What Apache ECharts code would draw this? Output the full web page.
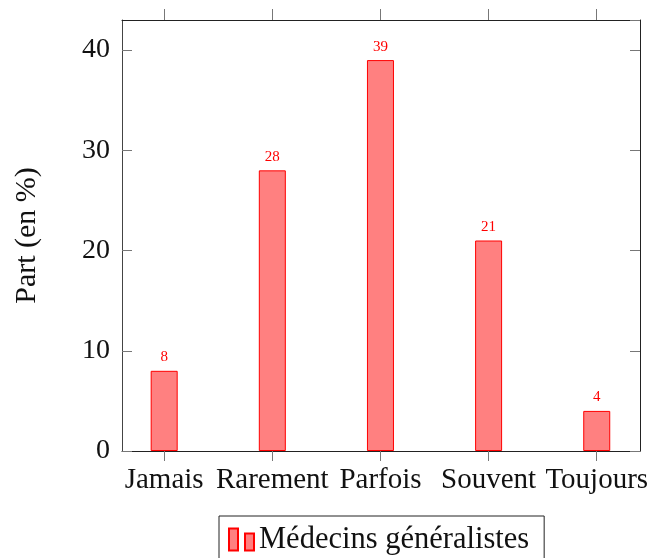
<!DOCTYPE html>
<html>
<head>
<meta charset="utf-8">
<script src="https://cdn.jsdelivr.net/npm/echarts@6/dist/echarts.min.js"></script>
<style>
  html, body { margin: 0; padding: 0; background: #fff; }
  #chart { width: 656px; height: 558px; }
</style>
</head>
<body>
<div id="chart"></div>
<script>
const categories = ['Jamais', 'Rarement', 'Parfois', 'Souvent', 'Toujours']
const values = [8, 28, 39, 21, 4]
const seriesName = 'Médecins généralistes'
const yTitle = 'Part (en %)'

const FONT = 'Liberation Serif'
const positions = categories.map((c, i) => i)

const chart = echarts.init(document.getElementById('chart'))

// x en valeur pour garder la marge pgfplots de chaque côté
const xBase = {
  type: 'value',
  min: -0.39,
  max: 4.4,
  splitLine: { show: false },
  axisLine: { show: true, onZero: false, lineStyle: { color: '#222', width: 1 } }
}

const yBase = {
  type: 'value',
  min: 0,
  max: 43,
  interval: 10,
  splitLine: { show: false },
  axisTick: { show: true, inside: true, length: 10, lineStyle: { color: '#777' } }
}

chart.setOption({
  animation: false,
  grid: { left: 122, right: 16, top: 20, bottom: 107 },
  xAxis: [
    {
      ...xBase,
      position: 'bottom',
      axisTick: { customValues: positions, inside: false, length: 10, lineStyle: { color: '#777' } },
      axisLabel: {
        customValues: positions,
        formatter: v => categories[Math.round(v)],
        margin: 15,
        color: '#111',
        fontFamily: FONT,
        fontSize: 29
      }
    },
    {
      ...xBase,
      position: 'top',
      axisTick: { customValues: positions, inside: false, length: 11, lineStyle: { color: '#777' } },
      axisLabel: { show: false }
    }
  ],
  yAxis: [
    {
      ...yBase,
      position: 'left',
      name: yTitle,
      nameLocation: 'middle',
      nameRotate: 90,
      nameGap: 80,
      nameTextStyle: { fontFamily: FONT, fontSize: 30, color: '#111' },
      axisLine: { show: true, onZero: false, lineStyle: { color: '#444', width: 1 } },
      axisLabel: { margin: 12, showMaxLabel: false, color: '#111', fontFamily: FONT, fontSize: 28 }
    },
    {
      ...yBase,
      position: 'right',
      axisLine: { show: true, onZero: false, lineStyle: { color: '#222', width: 1 } },
      axisLabel: { show: false }
    }
  ],
  legend: {
    left: 219,
    top: 516,
    padding: [8, 15, 8, 9],
    borderColor: '#222',
    borderWidth: 1,
    borderRadius: 0,
    itemWidth: 25,
    itemHeight: 22,
    icon: 'path://M0,0h9v22h-9z M16,5h9v17h-9z',
    textStyle: { fontFamily: FONT, fontSize: 30.5, color: '#111' },
    data: [seriesName]
  },
  series: [
    {
      name: seriesName,
      type: 'bar',
      barWidth: 27,
      data: values.map((v, i) => [positions[i], v]),
      itemStyle: { color: '#ff8080', borderColor: '#ff0000', borderWidth: 1 },
      label: {
        show: true,
        position: 'top',
        distance: 6,
        color: '#ff0000',
        fontFamily: FONT,
        fontSize: 15
      }
    }
  ]
})
</script>
</body>
</html>
